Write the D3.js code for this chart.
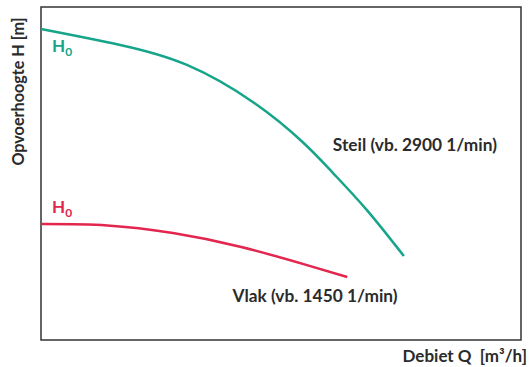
<!DOCTYPE html>
<html>
<head>
<meta charset="utf-8">
<script src="https://cdn.jsdelivr.net/npm/d3@7"></script>
<style>
  body { margin: 0; background: #fff; }
  text { font-family: Lato, "Open Sans", sans-serif; font-weight: bold; fill: #2b2b2b; white-space: pre; }
</style>
</head>
<body>
<div id="chart"></div>
<script>
// curve data, Q and H in relative units (0..100)
const steilQ = [0, 16.5, 30.4, 44.2, 54.6, 60.8, 67.9, 75.6];
const steilH = [93.4, 88.6, 82.6, 71.4, 59.3, 50.2, 39.0, 25.2];
const vlakQ = [0, 13.8, 27.5, 41.5, 55.4, 63.8];
const vlakH = [34.8, 34.4, 32.1, 28.0, 22.5, 18.9];

const labels = {
  steil: "Steil (vb. 2900 1/min)",
  vlak: "Vlak (vb. 1450 1/min)",
  xAxis: "Debiet Q  [m³/h]",
  yAxis: "Opvoerhoogte H [m]"
};

const W = 529, H = 367;
const margin = {top: 7, right: 8, bottom: 27, left: 41},
  width = W - margin.left - margin.right,
  height = H - margin.top - margin.bottom;

const svg = d3.select("#chart")
  .append("svg")
  .attr("width", W)
  .attr("height", H);

const g = svg.append("g")
  .attr("transform", `translate(${margin.left}, ${margin.top})`);

const x = d3.scaleLinear().domain([0, 100]).range([0, width]);
const y = d3.scaleLinear().domain([0, 100]).range([height, 0]);

// frame
g.append("rect")
  .attr("x", x(0))
  .attr("y", y(100))
  .attr("width", x(100) - x(0))
  .attr("height", y(0) - y(100))
  .attr("fill", "none")
  .attr("stroke", "#333")
  .attr("stroke-width", 1.5);

const line = d3.line()
  .x(d => x(d[0]))
  .y(d => y(d[1]))
  .curve(d3.curveNatural);

const green = "#16a48a", red = "#e2264d";

g.append("path")
  .datum(d3.zip(steilQ, steilH))
  .attr("d", line)
  .attr("fill", "none")
  .attr("stroke", green)
  .attr("stroke-width", 2.5);

g.append("path")
  .datum(d3.zip(vlakQ, vlakH))
  .attr("d", line)
  .attr("fill", "none")
  .attr("stroke", red)
  .attr("stroke-width", 2.5);

// H0 labels
function h0(color, yy) {
  const t = g.append("text")
    .attr("x", x(2.3))
    .attr("y", yy)
    .style("fill", color)
    .style("font-size", "17px");
  t.append("tspan").text("H");
  t.append("tspan").text("0").attr("dy", 4).style("font-size", "12px");
}
h0(green, y(steilH[0]) + 23);
h0(red, y(vlakH[0]) - 11);

// curve labels
g.append("text")
  .attr("x", x(60.8))
  .attr("y", y(56.9))
  .style("font-size", "17.3px")
  .text(labels.steil);

g.append("text")
  .attr("x", x(39.9))
  .attr("y", y(11.3))
  .style("font-size", "17.3px")
  .text(labels.vlak);

// axis titles
svg.append("text")
  .attr("x", 527)
  .attr("y", 362)
  .attr("text-anchor", "end")
  .style("font-size", "17px")
  .text(labels.xAxis);

svg.append("text")
  .attr("transform", "translate(24, 91.5) rotate(-90)")
  .attr("text-anchor", "middle")
  .style("font-size", "16.2px")
  .text(labels.yAxis);
</script>
</body>
</html>
